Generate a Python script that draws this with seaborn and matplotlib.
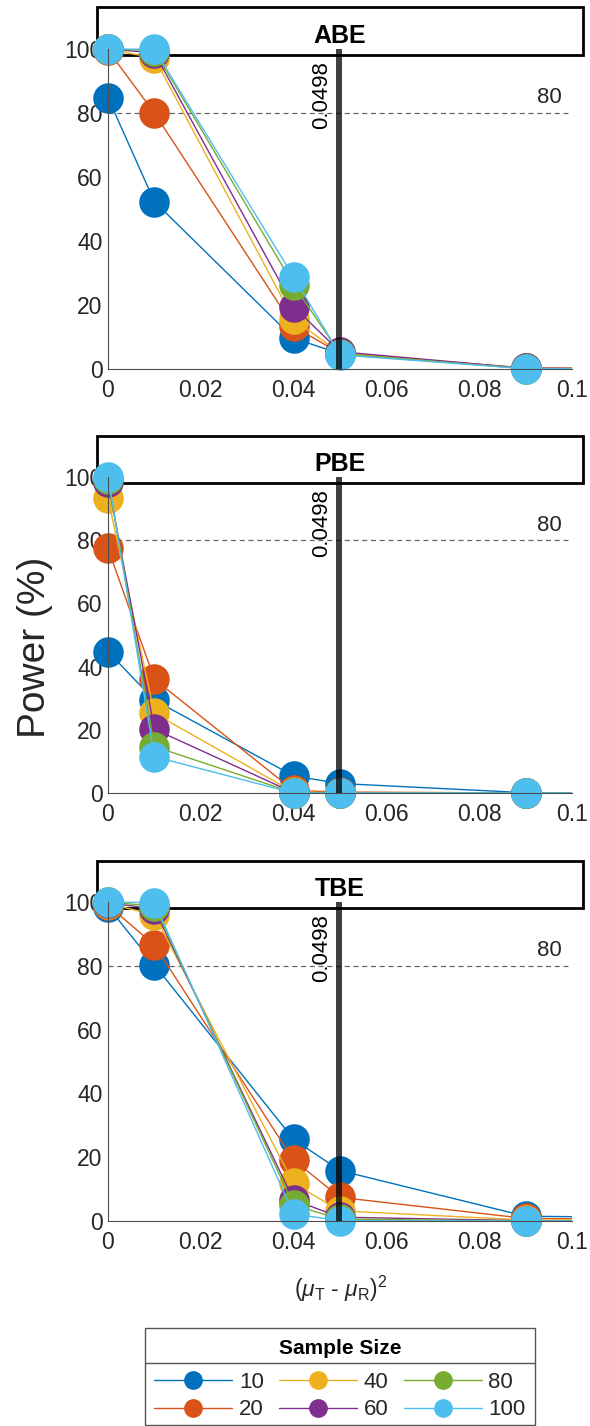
import numpy as np
import pandas as pd
import matplotlib
matplotlib.use("Agg")
import matplotlib.pyplot as plt
import seaborn as sns
from matplotlib.patches import Rectangle
from matplotlib.lines import Line2D

# Squared mean difference grid and sample sizes
delta_sq = [0, 0.01, 0.04, 0.05, 0.09, 0.16]
sample_sizes = [10, 20, 40, 60, 80, 100]
colors = ["#0072BD", "#D95319", "#EDB120", "#7E2F8E", "#77AC30", "#4DBEEE"]

# Power (%) per sample size (rows) at each delta_sq value (columns)
abe_power = [
    [84.8, 52.3, 9.6, 4.8, 0.2, 0.0],
    [99.6, 80.0, 13.3, 4.9, 0.3, 0.0],
    [99.9, 97.2, 15.5, 5.0, 0.2, 0.0],
    [100.0, 98.8, 19.5, 5.4, 0.2, 0.0],
    [100.0, 99.5, 26.3, 4.8, 0.1, 0.0],
    [100.0, 99.9, 28.8, 4.4, 0.1, 0.0],
]
pbe_power = [
    [44.7, 29.4, 5.4, 3.0, 0.1, 0.0],
    [77.4, 36.0, 0.8, 0.3, 0.0, 0.0],
    [93.3, 25.2, 0.3, 0.1, 0.0, 0.0],
    [98.5, 20.2, 0.1, 0.0, 0.0, 0.0],
    [99.5, 14.7, 0.1, 0.0, 0.0, 0.0],
    [100.0, 11.5, 0.0, 0.0, 0.0, 0.0],
]
tbe_power = [
    [98.5, 80.3, 25.6, 15.8, 1.5, 0.5],
    [99.0, 86.5, 19.1, 7.4, 0.8, 0.2],
    [99.5, 96.0, 11.8, 3.2, 0.3, 0.0],
    [99.8, 97.8, 6.6, 1.2, 0.1, 0.0],
    [99.9, 98.8, 5.0, 0.6, 0.0, 0.0],
    [100.0, 99.8, 2.2, 0.1, 0.0, 0.0],
]
methods = ["ABE", "PBE", "TBE"]
power_tables = [abe_power, pbe_power, tbe_power]

threshold = 0.0498
target_power = 80
x_ticks = [0, 0.02, 0.04, 0.06, 0.08, 0.1]
x_ticklabels = ["0", "0.02", "0.04", "0.06", "0.08", "0.1"]
y_ticks = [0, 20, 40, 60, 80, 100]

sns.set_style("white")
plt.rcParams["font.family"] = ["Liberation Sans", "DejaVu Sans"]
plt.rcParams["mathtext.fontset"] = "custom"
plt.rcParams["mathtext.rm"] = "Liberation Sans"
plt.rcParams["mathtext.it"] = "Liberation Sans:italic"

TXT = "#262626"
W, H = 590, 1426
fig = plt.figure(figsize=(W / 100, H / 100), dpi=100)

palette = {str(n): c for n, c in zip(sample_sizes, colors)}
hue_order = [str(n) for n in sample_sizes]

# axes placement in pixels: (y of 0, y of 100)
panel_rows = [(369, 49), (793, 477), (1221, 902)]
x0_px, x1_px = 108, 572

for method, table, (yb, yt) in zip(methods, power_tables, panel_rows):
    ax = fig.add_axes([x0_px / W, 1 - yb / H, (x1_px - x0_px) / W, (yb - yt) / H])
    rows = []
    for n, vals in zip(sample_sizes, table):
        for d, p in zip(delta_sq, vals):
            rows.append({"delta": d, "power": p, "n": str(n)})
    df = pd.DataFrame(rows)

    # title box above the axes
    ax.add_patch(Rectangle((-0.0237, 0.98), 1.0474, 0.15, transform=ax.transAxes,
                           facecolor="white", edgecolor="black", lw=2.0,
                           clip_on=False, zorder=1))
    ax.text(0.5, 1.02, method, transform=ax.transAxes, ha="center",
            va="baseline", fontsize=18, fontweight="bold", color="black",
            zorder=6)

    ax.axhline(target_power, color="#666666", lw=0.9, ls=(0, (4, 3)), zorder=1.5)
    ax.text(0.0978, 83, str(target_power), ha="right", va="baseline",
            fontsize=16, color=TXT)

    sns.lineplot(data=df, x="delta", y="power", hue="n", hue_order=hue_order,
                 palette=palette, marker="o", markersize=22, markeredgewidth=0,
                 linewidth=1.0, estimator=None, sort=False, legend=False, ax=ax)

    clip_rect = Rectangle((-0.08, -0.2), 1.08, 1.4, transform=ax.transAxes)
    for ln in ax.lines:
        if ln.get_marker() == "o":
            ln.set_clip_path(clip_rect)

    ax.plot([threshold, threshold], [0, 100], color="black", alpha=0.75,
            lw=4.3, solid_capstyle="butt", zorder=5)
    ax.annotate(f"{threshold}", xy=(threshold, 100), xytext=(-5, -9),
                textcoords="offset points", rotation=90, ha="right", va="top",
                fontsize=16, color="black", zorder=6)

    ax.set_xlim(0, 0.1)
    ax.set_ylim(0, 100)
    ax.set_xticks(x_ticks)
    ax.set_xticklabels(x_ticklabels)
    ax.set_yticks(y_ticks)
    ax.set_xlabel("")
    ax.set_ylabel("")
    ax.tick_params(direction="in", length=3, width=0.8, colors=TXT,
                   labelsize=16.5)
    ax.tick_params(axis="x", pad=7)
    ax.tick_params(axis="y", pad=4)
    for side in ["top", "right"]:
        ax.spines[side].set_visible(False)
    for side in ["left", "bottom"]:
        ax.spines[side].set_color("#4d4d4d")
        ax.spines[side].set_linewidth(0.8)

fig.text(35 / W, 1 - 647 / H, "Power (%)", rotation=90, ha="center",
         va="center", fontsize=28, color=TXT)
fig.text(341 / W, 1 - 1289 / H,
         r"($\mu_\mathregular{T}$ - $\mu_\mathregular{R}$)$^\mathregular{2}$",
         ha="center", va="center", fontsize=16.5, color=TXT)

# legend box with title row
lx0, lx1, ly0, ly1 = 145, 535, 1328, 1425
fig.add_artist(Rectangle((lx0 / W, 1 - ly1 / H), (lx1 - lx0) / W, (ly1 - ly0) / H,
                         transform=fig.transFigure, facecolor="white",
                         edgecolor="#555555", lw=1.0))
fig.add_artist(Line2D([lx0 / W, lx1 / W], [1 - 1363 / H] * 2,
                      transform=fig.transFigure, color="#555555", lw=1.0))
fig.text(340 / W, 1 - 1348 / H, "Sample Size", ha="center", va="center",
         fontsize=15, fontweight="bold", color="black")

handles = [Line2D([], [], color=c, lw=1.0, marker="o", markersize=13.5,
                  markeredgewidth=0) for c in colors]
fig.legend(handles, [str(n) for n in sample_sizes], ncol=3, loc="center",
           bbox_to_anchor=(340 / W, 1 - 1396 / H), frameon=False, fontsize=16,
           handlelength=3.5, handletextpad=0.3, columnspacing=0.7,
           labelspacing=0.3, borderpad=0, borderaxespad=0)

fig.savefig("out.png", dpi=100)
